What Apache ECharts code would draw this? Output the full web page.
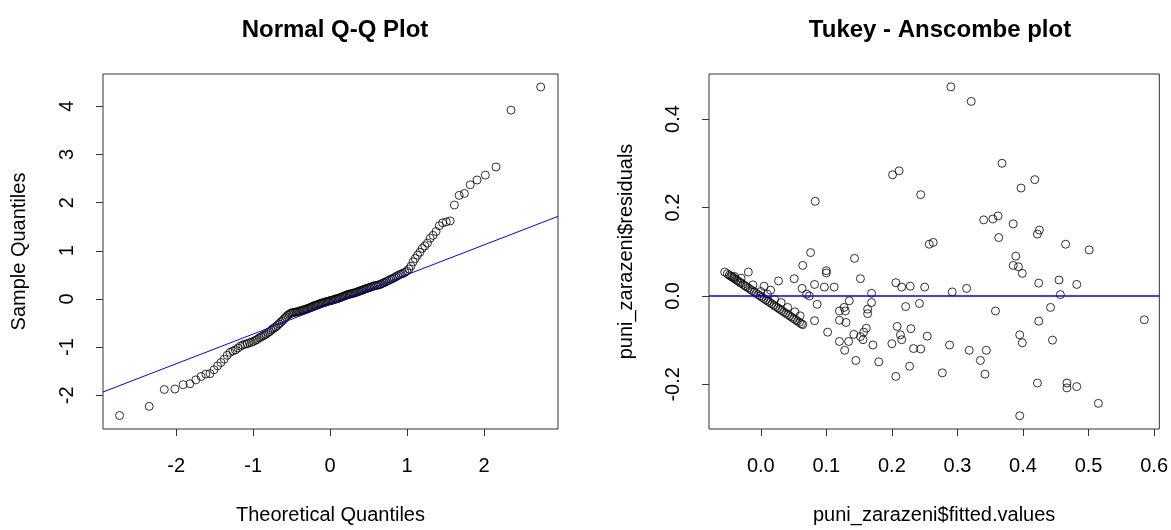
<!DOCTYPE html>
<html><head><meta charset="utf-8">
<script src="https://cdn.jsdelivr.net/npm/echarts@6/dist/echarts.min.js"></script>
<style>html,body{margin:0;padding:0;background:#fff}#c{width:1171px;height:530px}</style>
</head><body><div id="c"></div>
<script>
// ---------- Normal Q-Q plot data ----------
const theoreticalQuantiles = [
-2.735,-2.350,-2.154,-2.016,-1.909,-1.820,-1.744,-1.676,-1.614,-1.560,
-1.509,-1.462,-1.418,-1.376,-1.337,-1.300,-1.264,-1.230,-1.197,-1.166,
-1.135,-1.106,-1.078,-1.050,-1.023,-0.997,-0.971,-0.947,-0.922,-0.899,
-0.875,-0.853,-0.831,-0.809,-0.787,-0.766,-0.745,-0.725,-0.705,-0.685,
-0.665,-0.645,-0.626,-0.607,-0.589,-0.570,-0.552,-0.533,-0.515,-0.498,
-0.480,-0.462,-0.445,-0.428,-0.411,-0.394,-0.377,-0.360,-0.343,-0.327,
-0.310,-0.294,-0.278,-0.261,-0.245,-0.229,-0.213,-0.197,-0.181,-0.165,
-0.150,-0.134,-0.118,-0.102,-0.086,-0.071,-0.055,-0.039,-0.024,-0.008,
0.008,0.024,0.039,0.055,0.071,0.086,0.102,0.118,0.134,0.150,
0.165,0.181,0.197,0.213,0.229,0.245,0.261,0.278,0.294,0.310,
0.327,0.343,0.360,0.377,0.394,0.411,0.428,0.445,0.462,0.480,
0.498,0.515,0.533,0.552,0.570,0.589,0.607,0.626,0.645,0.665,
0.685,0.705,0.725,0.745,0.766,0.787,0.809,0.831,0.853,0.875,
0.899,0.922,0.947,0.971,0.997,1.023,1.050,1.078,1.106,1.135,
1.166,1.197,1.230,1.264,1.300,1.337,1.376,1.418,1.462,1.509,
1.560,1.614,1.676,1.744,1.820,1.909,2.016,2.154,2.350,2.735];
const sampleQuantiles = [
-2.42,-2.23,-1.88,-1.87,-1.78,-1.76,-1.68,-1.61,-1.56,-1.55,
-1.47,-1.39,-1.32,-1.25,-1.17,-1.11,-1.08,-1.06,-1.02,-0.98,
-0.96,-0.94,-0.93,-0.91,-0.90,-0.88,-0.86,-0.84,-0.81,-0.79,
-0.77,-0.75,-0.73,-0.70,-0.68,-0.65,-0.62,-0.60,-0.58,-0.55,
-0.52,-0.49,-0.46,-0.43,-0.40,-0.37,-0.34,-0.32,-0.30,-0.29,
-0.28,-0.28,-0.27,-0.27,-0.26,-0.25,-0.24,-0.23,-0.23,-0.22,
-0.21,-0.20,-0.19,-0.18,-0.17,-0.16,-0.14,-0.14,-0.13,-0.12,
-0.11,-0.10,-0.09,-0.08,-0.08,-0.07,-0.06,-0.05,-0.05,-0.04,
-0.03,-0.03,-0.02,-0.01,0.00,0.00,0.01,0.02,0.03,0.04,
0.05,0.06,0.07,0.08,0.09,0.10,0.10,0.11,0.12,0.12,
0.13,0.14,0.15,0.16,0.17,0.18,0.19,0.20,0.21,0.22,
0.23,0.24,0.25,0.26,0.27,0.28,0.28,0.29,0.30,0.31,
0.33,0.34,0.36,0.37,0.39,0.41,0.42,0.44,0.46,0.48,
0.50,0.52,0.53,0.55,0.58,0.62,0.68,0.77,0.84,0.91,
0.97,1.05,1.10,1.16,1.26,1.32,1.40,1.52,1.58,1.60,
1.62,1.95,2.15,2.19,2.37,2.47,2.57,2.74,3.92,4.40];
const qqLineIntercept = -0.112;
const qqLineSlope = 0.617;
const qqXTicks = [-2,-1,0,1,2];
const qqYTicks = [-2,-1,0,1,2,3,4];

// ---------- Tukey - Anscombe plot data ----------
const fittedValues = [
0.083,0.201,0.211,0.244,0.257,0.263,0.076,0.143,0.290,0.321,
0.368,0.418,0.397,0.340,0.354,0.362,0.385,0.425,0.422,0.363,
0.465,0.501,0.389,0.385,0.393,0.399,0.424,0.455,0.482,0.250,
0.292,0.314,0.457,0.242,0.442,0.358,0.424,0.585,0.254,0.244,
0.288,0.318,0.344,0.335,0.395,0.399,0.445,0.277,0.342,0.422,
0.467,0.467,0.482,0.515,0.395,0.064,0.100,0.100,0.152,0.051,
0.027,-0.019,0.082,0.097,0.112,0.063,0.206,0.215,0.228,0.169,
0.070,0.074,0.086,0.135,0.127,0.120,0.129,0.169,0.163,0.163,
0.221,0.120,0.130,0.082,0.102,0.142,0.152,0.157,0.161,0.156,
0.120,0.134,0.128,0.171,0.145,0.180,0.200,0.208,0.213,0.215,
0.229,0.233,0.227,0.206,
-0.055,-0.051,-0.048,-0.046,-0.044,-0.042,-0.040,-0.037,-0.035,-0.032,
-0.030,-0.027,-0.024,-0.022,-0.019,-0.016,-0.013,-0.010,-0.007,-0.004,
-0.001,0.002,0.005,0.008,0.011,0.014,0.017,0.020,0.023,0.026,
0.029,0.032,0.035,0.038,0.041,0.044,0.047,0.050,0.053,0.056,
0.059,0.062,0.064,
-0.040,-0.030,-0.012,0.000,0.010,0.015,0.021,0.031,0.041,0.052,0.060,0.005];
const residuals = [
0.214,0.274,0.283,0.229,0.117,0.121,0.098,0.085,0.473,0.440,
0.300,0.263,0.244,0.172,0.174,0.181,0.163,0.149,0.140,0.132,
0.117,0.104,0.090,0.069,0.066,0.051,0.029,0.036,0.026,0.020,
0.009,0.017,0.003,-0.017,-0.026,-0.034,-0.057,-0.054,-0.091,-0.120,
-0.111,-0.123,-0.123,-0.146,-0.088,-0.106,-0.100,-0.174,-0.177,-0.197,
-0.197,-0.208,-0.205,-0.243,-0.271,0.069,0.057,0.052,0.039,0.039,
0.034,0.054,0.026,0.020,0.020,0.017,0.030,0.020,0.022,0.006,
0.004,0.000,-0.019,-0.011,-0.026,-0.034,-0.034,-0.015,-0.030,-0.040,
-0.024,-0.055,-0.060,-0.056,-0.082,-0.087,-0.092,-0.082,-0.073,-0.099,
-0.103,-0.103,-0.123,-0.111,-0.146,-0.149,-0.108,-0.069,-0.088,-0.099,
-0.074,-0.119,-0.159,-0.182,
0.054,0.050,0.047,0.045,0.043,0.041,0.039,0.036,0.034,0.031,
0.029,0.026,0.023,0.021,0.018,0.015,0.012,0.009,0.006,0.003,
0.000,-0.003,-0.006,-0.009,-0.012,-0.015,-0.018,-0.021,-0.024,-0.027,
-0.030,-0.033,-0.036,-0.039,-0.042,-0.045,-0.048,-0.051,-0.054,-0.057,
-0.060,-0.063,-0.065,
0.044,0.040,0.025,0.010,0.004,0.013,-0.008,-0.015,-0.026,-0.036,-0.045,0.022];
const taXTicks = [0,0.1,0.2,0.3,0.4,0.5,0.6];
const taYTicks = [-0.2,0,0.2,0.4];

// ---------- chart ----------
const FONT = '"Liberation Sans", Arial, sans-serif';
const AX = '#333';
const qqRange = {xMin:-2.95, xMax:2.96, yMin:-2.70, yMax:4.67};
const taRange = {xMin:-0.079, xMax:0.608, yMin:-0.301, yMax:0.502};

function axisCfg(gridIndex, min, max, ticks, name, fmt, isY) {
  return {
    type:'value', gridIndex, min, max, name,
    nameLocation:'middle', nameGap: isY ? 74 : 76,
    nameTextStyle:{fontSize:20, color:'#000', fontFamily:FONT},
    axisLine:{show:false, onZero:false}, splitLine:{show:false},
    axisTick:{show:true, length:7, lineStyle:{color:AX, width:1}, customValues:ticks},
    axisLabel:{customValues:ticks, formatter:fmt, fontSize:20, color:'#000',
      margin: isY ? 26 : 27, rotate: isY ? 90 : 0, fontFamily:FONT}
  };
}
const intFmt = v => String(Math.round(v));
const decFmt = v => v.toFixed(1);

const circleStyle = {color:'rgba(0,0,0,0)', borderColor:'#000', borderWidth:1};

const chart = echarts.init(document.getElementById('c'), null, {renderer:'canvas'});
chart.setOption({
  animation:false,
  backgroundColor:'#fff',
  title:[
    {text:'Normal Q-Q Plot', left:330, top:13, textAlign:'center',
     textStyle:{fontSize:24, fontWeight:'bold', color:'#000', fontFamily:FONT}},
    {text:'Tukey - Anscombe plot', left:935, top:13, textAlign:'center',
     textStyle:{fontSize:24, fontWeight:'bold', color:'#000', fontFamily:FONT}}
  ],
  grid:[
    {left:103, right:613, top:74, bottom:97, show:true, borderColor:AX, borderWidth:1, backgroundColor:'transparent'},
    {left:709, right:10, top:74, bottom:97, show:true, borderColor:AX, borderWidth:1, backgroundColor:'transparent'}
  ],
  xAxis:[
    axisCfg(0, qqRange.xMin, qqRange.xMax, qqXTicks, 'Theoretical Quantiles', intFmt, false),
    axisCfg(1, taRange.xMin, taRange.xMax, taXTicks, 'puni_zarazeni$fitted.values', decFmt, false)
  ],
  yAxis:[
    Object.assign(axisCfg(0, qqRange.yMin, qqRange.yMax, qqYTicks, 'Sample Quantiles', intFmt, true), {nameGap:74}),
    Object.assign(axisCfg(1, taRange.yMin, taRange.yMax, taYTicks, 'puni_zarazeni$residuals', decFmt, true), {nameGap:73})
  ],
  series:[
    {type:'scatter', xAxisIndex:0, yAxisIndex:0, symbol:'circle', symbolSize:8, silent:true,
     itemStyle:circleStyle, data: theoreticalQuantiles.map((x,i)=>[x, sampleQuantiles[i]])},
    {type:'line', xAxisIndex:0, yAxisIndex:0, symbol:'none', silent:true, z:5,
     lineStyle:{color:'#0000ff', width:1},
     data:[[qqRange.xMin, qqLineIntercept + qqLineSlope*qqRange.xMin],
           [qqRange.xMax, qqLineIntercept + qqLineSlope*qqRange.xMax]]},
    {type:'scatter', xAxisIndex:1, yAxisIndex:1, symbol:'circle', symbolSize:8, silent:true,
     itemStyle:circleStyle, data: fittedValues.map((x,i)=>[x, residuals[i]])},
    {type:'line', xAxisIndex:1, yAxisIndex:1, symbol:'none', silent:true, z:5,
     lineStyle:{color:'#0000ff', width:1.5},
     data:[[taRange.xMin, 0],[taRange.xMax, 0]]}
  ]
});
</script>
</body></html>
